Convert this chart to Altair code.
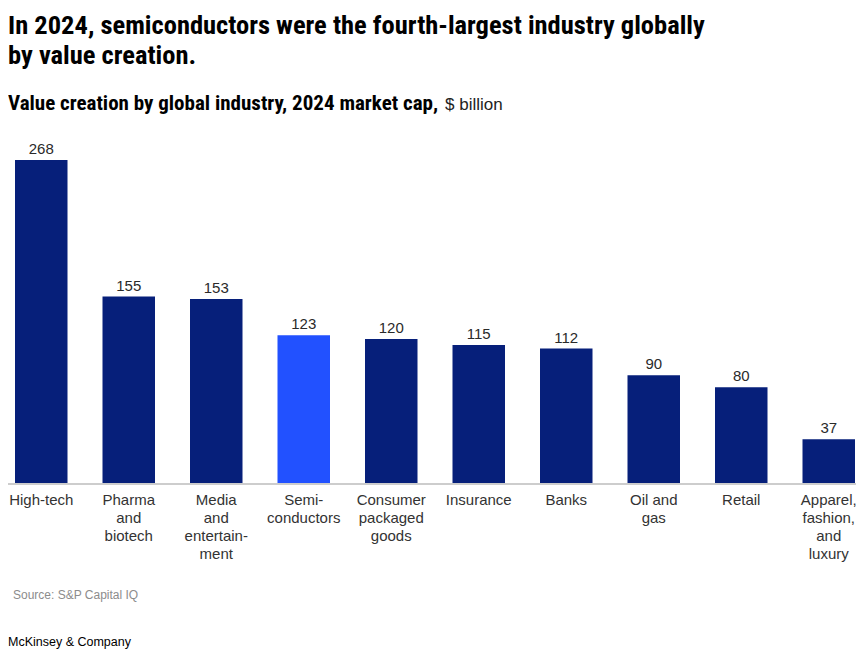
import altair as alt
import pandas as pd

# ---- data ----
industries = [
    "High-tech",
    "Pharma\nand\nbiotech",
    "Media\nand\nentertain-\nment",
    "Semi-\nconductors",
    "Consumer\npackaged\ngoods",
    "Insurance",
    "Banks",
    "Oil and\ngas",
    "Retail",
    "Apparel,\nfashion,\nand\nluxury",
]
values = [268, 155, 153, 123, 120, 115, 112, 90, 80, 37]
kind = ["base", "base", "base", "focus", "base", "base", "base", "base", "base", "base"]

title_lines = [
    "In 2024, semiconductors were the fourth-largest industry globally",
    "by value creation.",
]
subtitle_bold = ["Value creation by global industry, 2024 market cap,"]
subtitle_unit = ["$ billion"]
source_note = ["Source: S&P Capital IQ"]
footer_note = ["McKinsey & Company"]

NAVY = "#061f7a"
BLUE = "#2251ff"
NARROW = "'Liberation Sans Narrow', 'Roboto Condensed', 'Arial Narrow', sans-serif"
SANS = "'Liberation Sans', Arial, Helvetica, sans-serif"
W, H = 840, 324

df = pd.DataFrame({"industry": industries, "value": values, "kind": kind})

x_enc = alt.X(
    "industry:N",
    sort=industries,
    scale=alt.Scale(paddingInner=0.4, paddingOuter=0),
    axis=alt.Axis(
        title=None,
        domain=False,
        ticks=False,
        tickSize=0,
        labelAngle=0,
        labelPadding=8,
        labelFont=SANS,
        labelFontSize=15,
        labelColor="#333333",
        labelLineHeight=18,
        labelOverlap=False,
        labelLimit=0,
        labelExpr="split(datum.label, '\\n')",
    ),
)
y_enc = alt.Y("value:Q", scale=alt.Scale(domain=[0, 268], nice=False, zero=True), axis=None)

base = alt.Chart(df)

bars = base.mark_bar().encode(
    x=x_enc,
    y=y_enc,
    color=alt.Color("kind:N", scale=alt.Scale(domain=["base", "focus"], range=[NAVY, BLUE]), legend=None),
)

labels = base.mark_text(dy=-6, baseline="alphabetic", font=SANS, fontSize=15, color="#2a2a2a").encode(
    x=x_enc, y=y_enc, text=alt.Text("value:Q")
)

baseline_rule = base.mark_rule(color="#cccccc", strokeWidth=1.5).encode(
    y=alt.datum(0), x=alt.value(-8), x2=alt.value(W + 1)
)

def note(lines, **kw):
    return alt.Chart(pd.DataFrame({"t": lines})).mark_text(align="left", baseline="alphabetic", **kw)

sub1 = note(subtitle_bold, font=NARROW, fontSize=21, fontWeight="bold", color="#000000").encode(
    x=alt.value(-7), y=alt.value(-50), text="t:N"
)
sub2 = note(subtitle_unit, font=SANS, fontSize=17, color="#222222").encode(
    x=alt.value(430), y=alt.value(-50), text="t:N"
)
src = note(source_note, font=SANS, fontSize=12, color="#8c8c8c").encode(
    x=alt.value(-2), y=alt.value(439), text="t:N"
)
foot = note(footer_note, font=SANS, fontSize=12.5, color="#000000").encode(
    x=alt.value(-7), y=alt.value(486), text="t:N"
)

chart = (
    alt.layer(bars, labels, baseline_rule, sub1, sub2, src, foot)
    .properties(
        width=W,
        height=H,
        padding={"left": 7, "top": 152, "right": 1, "bottom": 165},
        autosize="none",
        title=alt.TitleParams(
            text=title_lines,
            anchor="start",
            frame="group",
            dx=-7,
            offset=24,
            font=NARROW,
            fontSize=26.5,
            fontWeight="bold",
            color="#000000",
            lineHeight=30,
        ),
    )
    .configure_view(stroke=None)
)

chart.save("out.html", embed_options={"renderer": "svg", "actions": False})
